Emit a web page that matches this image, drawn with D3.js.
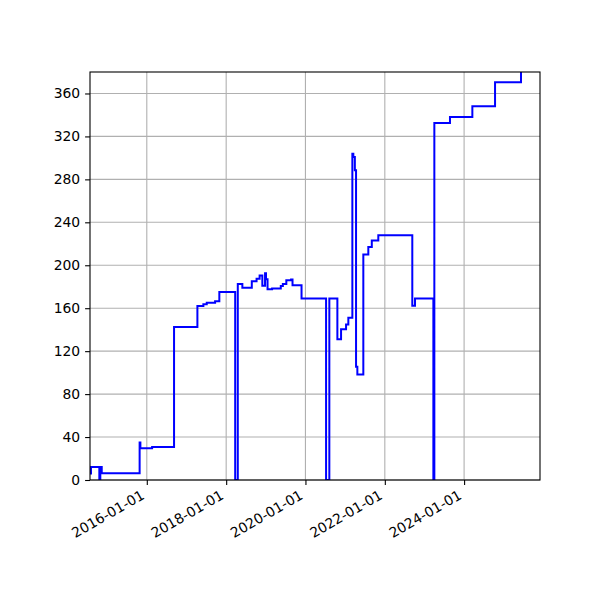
<!DOCTYPE html>
<html>
<head>
<meta charset="utf-8">
<script src="https://cdn.jsdelivr.net/npm/d3@7"></script>
<style>
  html, body { margin: 0; padding: 0; background: #fff; }
  svg { display: block; }
  text { font-family: "DejaVu Sans", sans-serif; }
</style>
</head>
<body>
<svg id="chart" width="600" height="600"></svg>
<script>
// ---- data ----
const stepDates = [
  "2014-07-27","2014-08-05","2014-10-21","2014-10-30","2014-11-12",
  "2015-10-27","2015-11-03","2016-02-19","2016-09-08","2017-04-11",
  "2017-06-05","2017-07-06","2017-09-21","2017-10-30","2018-03-25",
  "2018-04-18","2018-05-30","2018-08-25","2018-10-08","2018-11-05",
  "2018-11-30","2018-12-25","2019-01-03","2019-01-17","2019-02-28",
  "2019-05-19","2019-06-07","2019-07-09","2019-08-22","2019-09-04",
  "2019-11-26","2020-07-09","2020-08-08","2020-10-21","2020-11-24",
  "2021-01-09","2021-01-30","2021-03-08","2021-03-17","2021-03-31",
  "2021-04-11","2021-04-23","2021-06-17","2021-08-02","2021-09-03",
  "2021-11-02","2022-09-11","2022-10-06","2023-03-24","2023-04-02",
  "2023-08-24","2024-03-17","2024-10-12","2025-06-08"
];
const stepValues = [
  6, 12, 0, 12, 6.3,
  35, 29.5, 30.7, 142.5, 162,
  163.7, 165, 166.5, 175, 0,
  182.5, 179, 185, 187.5, 190.5,
  181, 192.5, 187, 177.7, 178.3,
  180.7, 182.5, 186, 186.7, 181.5,
  169, 0, 169, 131.2, 140.5,
  144.8, 151, 303.9, 300.8, 288.4,
  105.4, 98.3, 210, 217, 223,
  228, 162.2, 169, 0, 332.4,
  338, 348, 370.5, 380
];
const xDomainDates = ["2014-07-27", "2025-11-30"];
const yDomainValues = [0, 380];
const yTickValues = [0, 40, 80, 120, 160, 200, 240, 280, 320, 360];
const xTickDates = ["2016-01-01", "2018-01-01", "2020-01-01", "2022-01-01", "2024-01-01"];

// ---- layout ----
const margin = { left: 90, right: 60, top: 72, bottom: 120 };
const W = 600, H = 600;
const iw = W - margin.left - margin.right;
const ih = H - margin.top - margin.bottom;

const parse = d3.utcParse("%Y-%m-%d");
const fmt = d3.utcFormat("%Y-%m-%d");
const data = stepDates.map((d, i) => ({ date: parse(d), value: stepValues[i] }));

const x = d3.scaleUtc().domain(xDomainDates.map(parse)).range([0, iw]);
const y = d3.scaleLinear().domain(yDomainValues).range([ih, 0]);

const svg = d3.select("#chart");
svg.append("rect").attr("width", W).attr("height", H).attr("fill", "#fff");

svg.append("defs").append("clipPath").attr("id", "clip")
  .append("rect").attr("x", 0).attr("y", 0).attr("width", iw).attr("height", ih);

const g = svg.append("g").attr("transform", `translate(${margin.left},${margin.top})`);

// grid
const grid = g.append("g");
grid.selectAll(".gx").data(xTickDates.map(parse)).join("line")
  .attr("x1", d => x(d)).attr("x2", d => x(d))
  .attr("y1", 0).attr("y2", ih)
  .attr("stroke", "#b0b0b0").attr("stroke-width", 1.1);
grid.selectAll(".gy").data(yTickValues).join("line")
  .attr("x1", 0).attr("x2", iw)
  .attr("y1", d => y(d)).attr("y2", d => y(d))
  .attr("stroke", "#b0b0b0").attr("stroke-width", 1.1);

// line
const line = d3.line()
  .x(d => x(d.date))
  .y(d => y(d.value))
  .curve(d3.curveStepAfter);

g.append("path")
  .datum(data)
  .attr("clip-path", "url(#clip)")
  .attr("fill", "none")
  .attr("stroke", "#0000ff")
  .attr("stroke-width", 2)
  .attr("stroke-linejoin", "miter")
  .attr("d", line);

// axes
const yAxis = d3.axisLeft(y).tickValues(yTickValues).tickSize(4.9).tickPadding(4.9);
const yg = g.append("g").call(yAxis);
yg.select(".domain").remove();
yg.selectAll(".tick line").attr("stroke", "#000").attr("stroke-width", 1.1);
yg.selectAll(".tick text").attr("font-size", 13.9).attr("fill", "#000")
  .attr("font-family", "DejaVu Sans, sans-serif");

const xAxis = d3.axisBottom(x).tickValues(xTickDates.map(parse)).tickSize(4.9).tickFormat(fmt);
const xg = g.append("g").attr("transform", `translate(0,${ih})`).call(xAxis);
xg.select(".domain").remove();
xg.selectAll(".tick line").attr("stroke", "#000").attr("stroke-width", 1.1);
xg.selectAll(".tick text")
  .attr("font-size", 13.9).attr("fill", "#000")
  .attr("font-family", "DejaVu Sans, sans-serif")
  .attr("text-anchor", "end")
  .attr("dy", null)
  .attr("y", null)
  .attr("transform", "translate(-2,18) rotate(-30)");

// spines
g.append("rect").attr("x", 0).attr("y", 0).attr("width", iw).attr("height", ih)
  .attr("fill", "none").attr("stroke", "#000").attr("stroke-width", 1.1);
</script>
</body>
</html>
